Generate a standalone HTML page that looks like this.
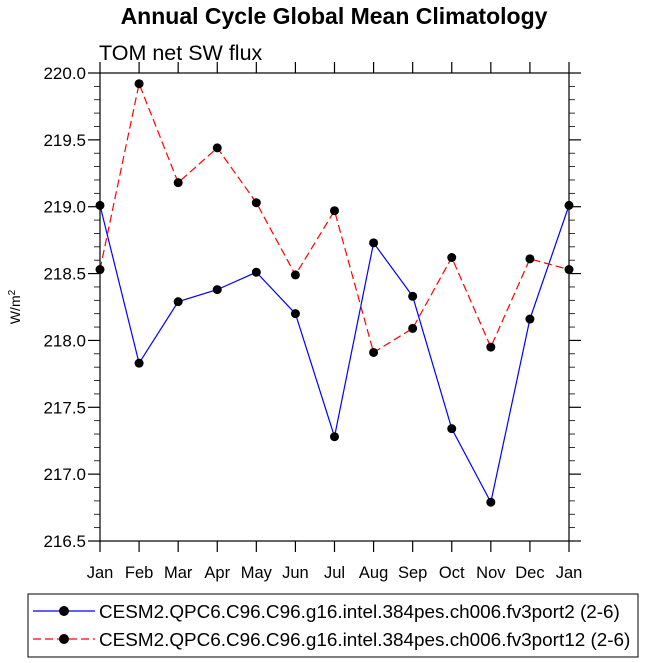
<!DOCTYPE html>
<html><head><meta charset="utf-8"><style>
body{margin:0;background:#fff;}
svg{display:block;font-family:"Liberation Sans",sans-serif;}
</style></head><body>
<svg id="chart" width="647" height="663">
<text x="334" y="24" text-anchor="middle" font-size="23" font-weight="bold">Annual Cycle Global Mean Climatology</text>
<text x="99" y="60" font-size="21.5">TOM net SW flux</text>
<text transform="translate(20,307) rotate(-90)" text-anchor="middle" font-size="14">W/m<tspan dy="-5" font-size="10">2</tspan></text>
<g id="axes"></g>
<g id="series"></g>
<rect x="28" y="594" width="610" height="63" fill="none" stroke="#000" stroke-width="1"/>
<g>
<line x1="33" y1="611" x2="95" y2="611" stroke="#0000ff" stroke-width="1.2"/>
<circle cx="64" cy="611" r="5" fill="#000"/>
<text x="99" y="618" font-size="18.9">CESM2.QPC6.C96.C96.g16.intel.384pes.ch006.fv3port2 (2-6)</text>
</g>
<g>
<line x1="33" y1="639" x2="95" y2="639" stroke="#ff0000" stroke-width="1.2" stroke-dasharray="8,4"/>
<circle cx="64" cy="639" r="5" fill="#000"/>
<text x="99" y="646" font-size="18.9">CESM2.QPC6.C96.C96.g16.intel.384pes.ch006.fv3port12 (2-6)</text>
</g>
</svg>
<script>
const months=["Jan","Feb","Mar","Apr","May","Jun","Jul","Aug","Sep","Oct","Nov","Dec","Jan"];
const port2=[219.01,217.83,218.29,218.38,218.51,218.20,217.28,218.73,218.33,217.34,216.79,218.16,219.01];
const port12=[218.53,219.92,219.18,219.44,219.03,218.49,218.97,217.91,218.09,218.62,217.95,218.61,218.53];
const yTicks=["216.5","217.0","217.5","218.0","218.5","219.0","219.5","220.0"];
const L=100,R=569,T=73,B=541,yMin=216.5,yMax=220.0;
const xs=i=>L+(R-L)*i/(months.length-1);
const ys=v=>B-(v-yMin)/(yMax-yMin)*(B-T);
const NS="http://www.w3.org/2000/svg";
function mk(tag,attrs,parent){const e=document.createElementNS(NS,tag);for(const k in attrs)e.setAttribute(k,attrs[k]);parent.appendChild(e);return e;}
const ax=document.getElementById('axes');
const frame=mk('rect',{x:L,y:T,width:R-L,height:B-T,fill:'none',stroke:'#000','stroke-width':1.2},ax);


months.forEach((m,i)=>{
  const x=xs(i);
  mk('line',{x1:x,y1:B,x2:x,y2:B+11,stroke:'#000','stroke-width':1.2},ax);
  mk('line',{x1:x,y1:T,x2:x,y2:T-11,stroke:'#000','stroke-width':1.2},ax);
  const t=mk('text',{x:x,y:578,'text-anchor':'middle','font-size':16.5},ax);
  t.textContent=m;
  
  
});
for(let k=0;k<=35;k++){
  const v=yMin+k*0.1,y=ys(v),major=k%5===0,len=major?12:6;
  mk('line',{x1:L,y1:y,x2:L-len,y2:y,stroke:'#000','stroke-width':major?1.2:0.8},ax);
  mk('line',{x1:R,y1:y,x2:R+len,y2:y,stroke:'#000','stroke-width':major?1.2:0.8},ax);
}
yTicks.forEach(s=>{
  const t=mk('text',{x:86,y:ys(parseFloat(s))+6,'text-anchor':'end','font-size':17},ax);
  t.textContent=s;
  
  
});
const sg=document.getElementById('series');
function draw(vals,color,dash,name){
  const g=mk('g',{},sg);
  
  
  const p=mk('polyline',{points:vals.map((v,i)=>xs(i)+','+ys(v)).join(' '),fill:'none',stroke:color,'stroke-width':1.2},g);
  if(dash)p.setAttribute('stroke-dasharray',dash);
  vals.forEach((v,i)=>{
    const c=mk('circle',{cx:xs(i),cy:ys(v),r:4.5,fill:'#000'},g);
    
    
  });
}
draw(port2,'#0000ff',null,'series-port2');
draw(port12,'#ff0000','8,4','series-port12');
</script>
</body></html>
